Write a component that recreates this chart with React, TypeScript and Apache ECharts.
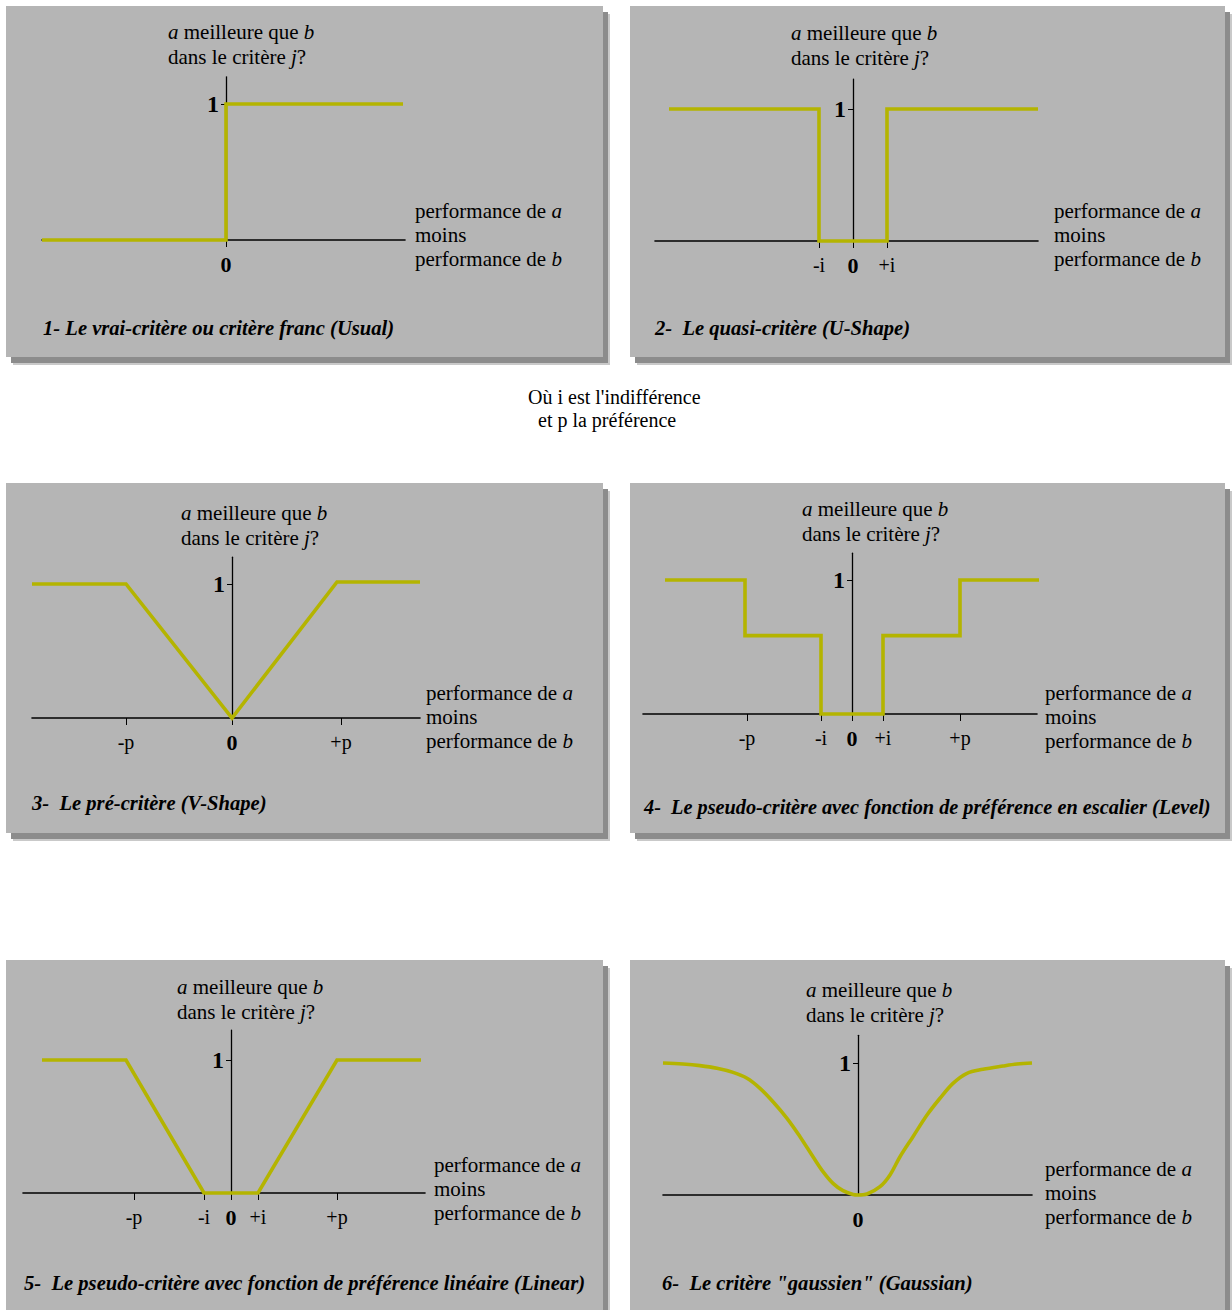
import React, { useEffect, useRef } from "react";
import * as echarts from "echarts";

// ---------- data (abstract units) ----------
const usualX = [-18.4, 0, 0, 17.7];
const usualY = [0, 0, 1, 1];
const usualTicks = [0];
const usualTickLabels = ["0"];

const uShapeX = [-18.4, -3.4, -3.4, 3.4, 3.4, 18.5];
const uShapeY = [1, 1, 0, 0, 1, 1];
const uShapeTicks = [-3.4, 0, 3.4];
const uShapeTickLabels = ["-i", "0", "+i"];

const vShapeX = [-20, -10.6, 0, 10.5, 18.8];
const vShapeY = [1, 1, 0, 1.015, 1.015];
const vShapeTicks = [-10.6, 0, 10.9];
const vShapeTickLabels = ["-p", "0", "+p"];

const levelX = [-18.7, -10.7, -10.7, -3.1, -3.1, 3.1, 3.1, 10.8, 10.8, 18.7];
const levelY = [1, 1, 0.585, 0.585, 0, 0, 0.585, 0.585, 1, 1];
const levelTicks = [-10.5, -3.1, 0, 3.1, 10.8];
const levelTickLabels = ["-p", "-i", "0", "+i", "+p"];

const linearX = [-18.9, -10.5, -2.7, 2.7, 10.6, 19.0];
const linearY = [1, 1, 0, 0, 1, 1];
const linearTicks = [-9.7, -2.7, 0, 2.7, 10.6];
const linearTickLabels = ["-p", "-i", "0", "+i", "+p"];

const gaussX = [-19.5, -17.5, -15.8, -14.1, -12.5, -11.1, -9.8, -8.5, -7.1, -5.8, -4.5, -3.5, -2.5, -1.5, -0.5, 0,
  0.9, 2.2, 3.2, 4.2, 5.5, 6.9, 8.2, 9.5, 10.9, 12.5, 14.5, 15.9, 17.4];
const gaussY = [1.0, 0.992, 0.98, 0.96, 0.929, 0.884, 0.808, 0.707, 0.581, 0.442, 0.29, 0.177, 0.088, 0.033, 0.004, 0,
  0.008, 0.063, 0.152, 0.29, 0.442, 0.606, 0.733, 0.846, 0.922, 0.952, 0.977, 0.992, 1.0];
const gaussTicks = [0];
const gaussTickLabels = ["0"];

const titles = [
  "1- Le vrai-critère ou critère franc (Usual)",
  "2-  Le quasi-critère (U-Shape)",
  "3-  Le pré-critère (V-Shape)",
  "4-  Le pseudo-critère avec fonction de préférence en escalier (Level)",
  "5-  Le pseudo-critère avec fonction de préférence linéaire (Linear)",
  "6-  Le critère \"gaussien\" (Gaussian)",
];
const yAxisTitle = "{i|a} meilleure que {i|b}\ndans le critère {i|j}?";
const xAxisTitle = "performance de {i|a}\nmoins\nperformance de {i|b}";
const noteLines = ["Où i est l'indifférence", "et p la préférence"];

const seriesX = [usualX, uShapeX, vShapeX, levelX, linearX, gaussX];
const seriesY = [usualY, uShapeY, vShapeY, levelY, linearY, gaussY];
const tickVals = [usualTicks, uShapeTicks, vShapeTicks, levelTicks, linearTicks, gaussTicks];
const tickLabels = [usualTickLabels, uShapeTickLabels, vShapeTickLabels, levelTickLabels, linearTickLabels, gaussTickLabels];

// ---------- layout ----------
const PX_PER_X = 10;
const axesLayout = [
  { x0: 226, y0: 240, unitY: 136, xmin: -18.4, xmax: 17.9, ymax: 1.2, tick: true },
  { x0: 853, y0: 241, unitY: 132, xmin: -19.8, xmax: 18.5, ymax: 1.227, tick: true },
  { x0: 232, y0: 718, unitY: 134, xmin: -20, xmax: 18.8, ymax: 1.2, tick: true },
  { x0: 852, y0: 714, unitY: 134, xmin: -20.9, xmax: 18.5, ymax: 1.2, tick: true },
  { x0: 231, y0: 1193, unitY: 133, xmin: -20.8, xmax: 19.4, ymax: 1.225, tick: true },
  { x0: 858, y0: 1195, unitY: 132, xmin: -19.5, xmax: 17.4, ymax: 1.21, tick: false },
];
const panelRects = [
  [6, 6, 597, 351],
  [630, 6, 595, 351],
  [6, 483, 597, 350],
  [630, 483, 595, 350],
  [6, 960, 597, 370],
  [630, 960, 595, 370],
];
const yTitlePos = [[168, 44.5], [791, 45], [181, 525], [802, 521], [177, 999], [806, 1002]];
const xTitlePos = [[415, 235], [1054, 235], [426, 717], [1045, 717], [434, 1189], [1045, 1193]];
const titlePos = [[43, 328], [655, 328], [32, 803], [644, 807], [24, 1283], [662, 1283]];
const titleSize = [20.6, 20.6, 20.6, 20.3, 20.6, 20.6];
const notePos = [[528, 397], [538, 420]];

const FONT = '"Liberation Serif", "Times New Roman", serif';
const LINE_COLOR = "#b4b400";
const PANEL = "#b5b5b5";
const SHADOW = "#8c8c8c";

function buildOption() {
  const grid: any[] = [];
  const xAxis: any[] = [];
  const yAxis: any[] = [];
  const series: any[] = [];
  const graphic: any[] = [];

  panelRects.forEach(([x, y, w, h]) => {
    graphic.push({ type: "rect", z: 0, silent: true, shape: { x: x + 7, y: y + 8, width: w, height: h }, style: { fill: "#c9c9c9" } });
    graphic.push({ type: "rect", z: 0, silent: true, shape: { x: x + 5, y: y + 6, width: w, height: h }, style: { fill: SHADOW } });
    graphic.push({ type: "rect", z: 0, silent: true, shape: { x, y, width: w, height: h }, style: { fill: PANEL } });
  });

  axesLayout.forEach((L, i) => {
    grid.push({
      left: L.x0 + L.xmin * PX_PER_X,
      top: L.y0 - L.ymax * L.unitY,
      width: (L.xmax - L.xmin) * PX_PER_X,
      height: L.ymax * L.unitY,
      containLabel: false,
      outerBoundsMode: "none",
    });
    const ticks = tickVals[i];
    const labels = tickLabels[i];
    xAxis.push({
      gridIndex: i,
      type: "value",
      min: L.xmin,
      max: L.xmax,
      position: "bottom",
      z: 3,
      axisLine: { show: true, onZero: false, lineStyle: { color: "#000", width: 1.6 } },
      axisTick: { show: L.tick, customValues: ticks, length: 7, lineStyle: { color: "#000", width: 1 } },
      axisLabel: {
        show: true,
        customValues: ticks,
        margin: 13,
        formatter: (v: number) => {
          const k = ticks.indexOf(v);
          const s = k >= 0 ? labels[k] : "";
          return s === "0" ? "{z|0}" : "{n|" + s + "}";
        },
        rich: {
          n: { fontFamily: FONT, fontSize: 20, color: "#000", lineHeight: 22 },
          z: { fontFamily: FONT, fontSize: 22, fontWeight: "bold", color: "#000", lineHeight: 22 },
        },
      },
      splitLine: { show: false },
    });
    yAxis.push({
      gridIndex: i,
      type: "value",
      min: 0,
      max: L.ymax,
      position: "left",
      // move the whole axis (line, tick, label) to x = 0
      offset: L.xmin * PX_PER_X,
      z: 3,
      axisLine: { show: true, onZero: false, lineStyle: { color: "#000", width: 1.3 } },
      axisTick: { show: true, customValues: [1], length: 5, lineStyle: { color: "#000", width: 1 } },
      axisLabel: {
        show: true,
        customValues: [1],
        margin: 7,
        formatter: () => "1",
        fontFamily: FONT,
        fontSize: 24,
        fontWeight: "bold",
        color: "#000",
        padding: [0, 0, 12, 0],
      },
      splitLine: { show: false },
    });
    const xs = seriesX[i];
    const ys = seriesY[i];
    series.push({
      type: "line",
      xAxisIndex: i,
      yAxisIndex: i,
      z: 4,
      clip: false,
      silent: true,
      symbol: "none",
      smooth: i === 5 ? 0.35 : false,
      lineStyle: { color: LINE_COLOR, width: 3.6, join: "miter" },
      data: xs.map((x, k) => [x, ys[k]]),
    });

    const textBase = { fill: "#000", fontFamily: FONT, fontSize: 21 };
    graphic.push({
      type: "text",
      z: 5,
      x: yTitlePos[i][0],
      y: yTitlePos[i][1],
      style: {
        ...textBase,
        text: yAxisTitle,
        lineHeight: 25,
        align: "left", textAlign: "left",
        verticalAlign: "middle", textVerticalAlign: "middle",
        rich: { i: { fontFamily: FONT, fontSize: 21, fontStyle: "italic", lineHeight: 25, fill: "#000" } },
      },
    });
    graphic.push({
      type: "text",
      z: 5,
      x: xTitlePos[i][0],
      y: xTitlePos[i][1],
      style: {
        ...textBase,
        text: xAxisTitle,
        lineHeight: 24,
        align: "left", textAlign: "left",
        verticalAlign: "middle", textVerticalAlign: "middle",
        rich: { i: { fontFamily: FONT, fontSize: 21, fontStyle: "italic", lineHeight: 24, fill: "#000" } },
      },
    });
    graphic.push({
      type: "text",
      z: 5,
      x: titlePos[i][0],
      y: titlePos[i][1],
      style: {
        text: titles[i],
        fill: "#000",
        fontFamily: FONT,
        fontSize: titleSize[i],
        fontWeight: "bold",
        fontStyle: "italic",
        align: "left", textAlign: "left",
        verticalAlign: "middle", textVerticalAlign: "middle",
      },
    });
  });

  noteLines.forEach((t, k) => {
    graphic.push({
      type: "text",
      z: 5,
      x: notePos[k][0],
      y: notePos[k][1],
      style: {
        text: t,
        fill: "#000",
        fontFamily: FONT,
        fontSize: 20,
        align: "left", textAlign: "left",
        verticalAlign: "middle", textVerticalAlign: "middle",
      },
    });
  });

  return {
    animation: false,
    backgroundColor: "#ffffff",
    grid,
    xAxis,
    yAxis,
    series,
    graphic: { elements: graphic },
  };
}

export default function App() {
  const ref = useRef<HTMLDivElement>(null);
  useEffect(() => {
    if (!ref.current) return;
    const chart = echarts.init(ref.current, undefined, { renderer: "svg" });
    chart.setOption(buildOption() as any);
    return () => chart.dispose();
  }, []);
  return (
    <div
      ref={ref}
      style={{ position: "absolute", left: 0, top: 0, width: 1232, height: 1310 }}
    />
  );
}
